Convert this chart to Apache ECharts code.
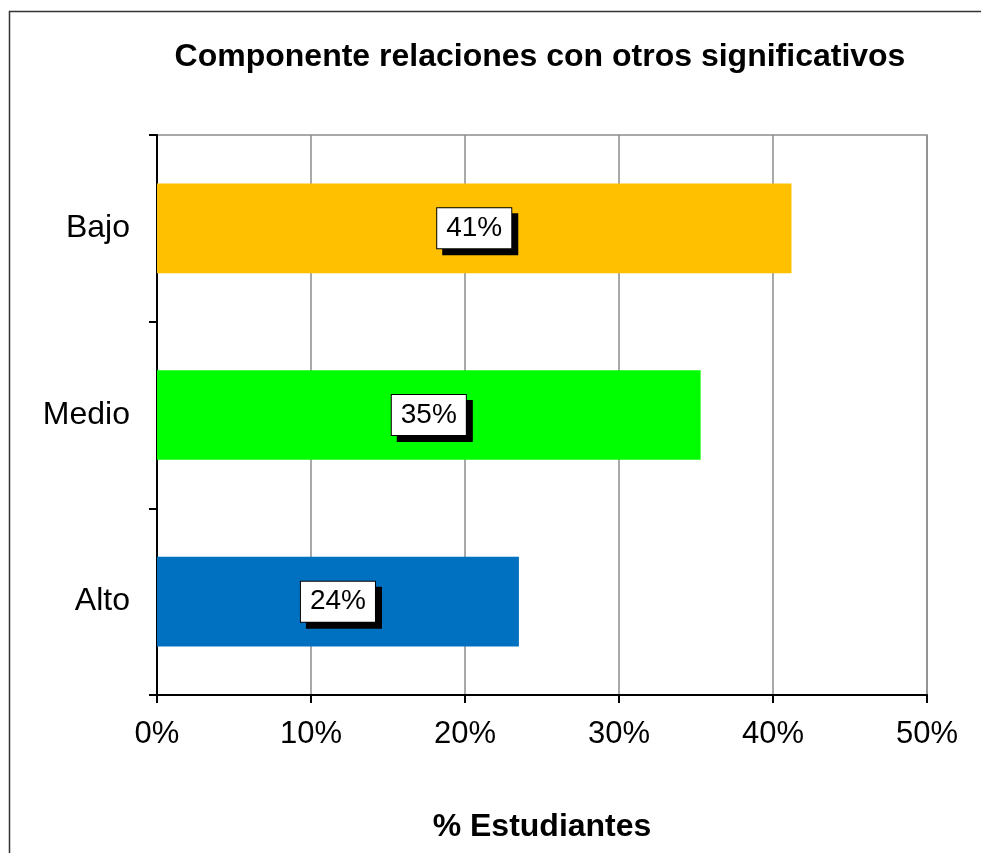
<!DOCTYPE html>
<html>
<head>
<meta charset="utf-8">
<script src="https://cdn.jsdelivr.net/npm/echarts@6/dist/echarts.min.js"></script>
<style>
html, body { margin: 0; padding: 0; background: #fff; }
#chart { width: 981px; height: 853px; }
</style>
</head>
<body>
<div id="chart"></div>
<script>
// data
var categories = ['Alto', 'Medio', 'Bajo'];
var values = [23.5, 35.3, 41.2];
var barColors = ['#0070C0', '#00FF00', '#FFC000'];

var chart = echarts.init(document.getElementById('chart'));
var font = 'Liberation Sans, Arial, sans-serif';

chart.setOption({
  animation: false,
  backgroundColor: '#fff',
  title: {
    text: 'Componente relaciones con otros significativos',
    left: 535,
    top: 36,
    textAlign: 'center',
    textStyle: { fontFamily: font, fontSize: 32, fontWeight: 'bold', color: '#000' }
  },
  graphic: [{
    type: 'rect',
    shape: { x: 9.5, y: 11.5, width: 1000, height: 900 },
    style: { fill: 'none', stroke: '#333', lineWidth: 1.5 },
    silent: true
  }],
  grid: {
    left: 157, top: 135, width: 770, height: 560,
    show: true, borderColor: '#8c8c8c', borderWidth: 1.5
  },
  xAxis: {
    type: 'value',
    min: 0,
    max: 50,
    interval: 10,
    name: '% Estudiantes',
    nameLocation: 'middle',
    nameGap: 116,
    nameTextStyle: { fontFamily: font, fontSize: 32, fontWeight: 'bold', color: '#000' },
    axisLine: { show: true, lineStyle: { color: '#000', width: 2 } },
    axisTick: { show: true, length: 8, lineStyle: { color: '#000', width: 2 } },
    axisLabel: { fontFamily: font, fontSize: 31, color: '#000', margin: 24, formatter: '{value}%' },
    splitLine: { show: true, lineStyle: { color: '#8c8c8c', width: 1.5 } }
  },
  yAxis: {
    type: 'category',
    data: categories,
    axisLine: { show: true, lineStyle: { color: '#000', width: 2 } },
    axisTick: { show: true, length: 8, lineStyle: { color: '#000', width: 2 } },
    axisLabel: { fontFamily: font, fontSize: 32, color: '#000', margin: 27 },
    splitLine: { show: false }
  },
  series: [{
    type: 'bar',
    barWidth: '48%',
    data: values.map(function (v, i) {
      return { value: v, itemStyle: { color: barColors[i] } };
    }),
    label: {
      show: true,
      position: 'inside',
      formatter: function (p) { return Math.round(p.value) + '%'; },
      fontFamily: font,
      fontSize: 28,
      color: '#000',
      backgroundColor: '#fff',
      borderColor: '#000',
      borderWidth: 1,
      padding: [7, 9, 5, 9],
      shadowColor: '#000',
      shadowBlur: 0,
      shadowOffsetX: 6,
      shadowOffsetY: 6
    }
  }]
});
</script>
</body>
</html>
